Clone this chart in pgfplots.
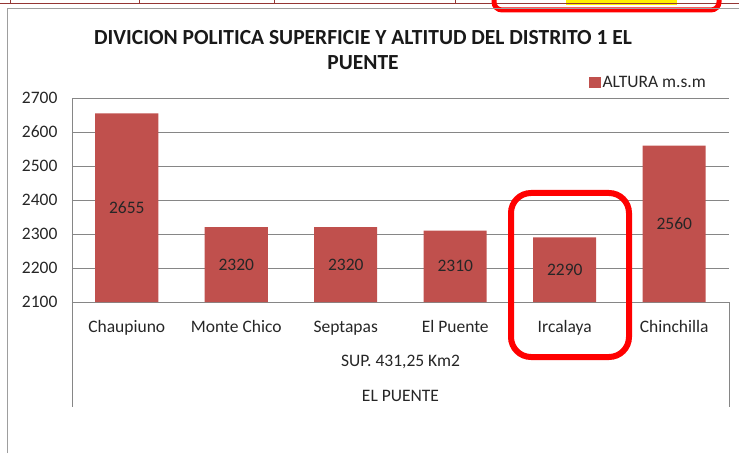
\documentclass[border=0pt]{standalone}
\usepackage{pgfplots}
\pgfplotsset{compat=1.18}
\usepackage{fontspec}
\setmainfont{Carlito}
\definecolor{barred}{HTML}{C0504D}
\definecolor{gridgray}{HTML}{868686}
\definecolor{cellred}{HTML}{943634}
\begin{document}
\begin{tikzpicture}[x=1pt,y=1pt]
\useasboundingbox (0,0) rectangle (739,453);
% spreadsheet cells above the chart
\fill[yellow] (566,453) rectangle (677,448);
\draw[cellred, line width=1.2] (0,449.5) -- (739,449.5);
\foreach \xx in {10,139,274,455} \draw[cellred, line width=1] (\xx,453) -- (\xx,449);
\draw[red, line width=5, rounded corners=8] (494,460) -- (494,443) -- (719,443) -- (719,460);
% chart border
\draw[gridgray!80, line width=1] (7,0) -- (7,444) -- (739,444);
\begin{axis}[
  at={(72pt,151pt)}, anchor=south west,
  scale only axis, width=657pt, height=204pt,
  ymin=2100, ymax=2700, ytick={2100,2200,...,2700},
  xmin=-0.5, xmax=5.5, xtick={0,...,5},
  xticklabels={Chaupiuno, Monte Chico, Septapas, El Puente, Ircalaya, Chinchilla},
  ybar, bar width=63pt,
  ymajorgrids, grid style={gridgray, line width=0.8pt},
  axis x line*=bottom, axis y line*=left,
  axis line style={gridgray, -, line width=0.8pt},
  major tick length=0pt,
  tick label style={font=\fontsize{17.5}{21}\selectfont, text=black!85},
  /pgf/number format/assume math mode=true,
  /pgf/number format/1000 sep={},
  yticklabel style={xshift=-11pt},
  xticklabel style={anchor=base, yshift=-30pt},
  title={DIVICION POLITICA SUPERFICIE Y ALTITUD DEL DISTRITO 1 EL\\PUENTE},
  title style={at={(axis description cs:0.443,1.205)}, anchor=center, align=center,
    font=\bfseries\fontsize{21.5}{25}\selectfont, text=black!90},
  legend style={at={(axis description cs:0.877,1.074)}, anchor=center, draw=none, fill=none,
    font=\fontsize{17.5}{21}\selectfont, text=black!85, inner sep=0pt},
  legend image code/.code={\fill[barred] (0pt,-5pt) rectangle (12pt,6pt);},
  clip=false,
]
\addplot[fill=barred, draw=none,
  visualization depends on={rawy \as \rawy},
  nodes near coords,
  nodes near coords style={font=\fontsize{17.5}{21}\selectfont, text=black!85, anchor=center,
    yshift={-(\rawy-2100)*0.17pt}},
] coordinates {(0,2655) (1,2320) (2,2320) (3,2310) (4,2290) (5,2560)};
\addlegendentry{ALTURA m.s.m}
\draw[gridgray, line width=0.8pt] (axis description cs:0,0) -- (axis description cs:0,-0.515);
\draw[gridgray, line width=0.8pt] (axis description cs:1,0) -- (axis description cs:1,-0.515);
\node[font=\fontsize{17.5}{21}\selectfont, text=black!85] at (axis description cs:0.5,-0.294) {SUP. 431,25 Km2};
\node[font=\fontsize{17.5}{21}\selectfont, text=black!85] at (axis description cs:0.5,-0.461) {EL PUENTE};
\end{axis}
% annotation around Ircalaya
\draw[red, line width=6, rounded corners=20] (511,260) rectangle (629,96);
\end{tikzpicture}
\end{document}
